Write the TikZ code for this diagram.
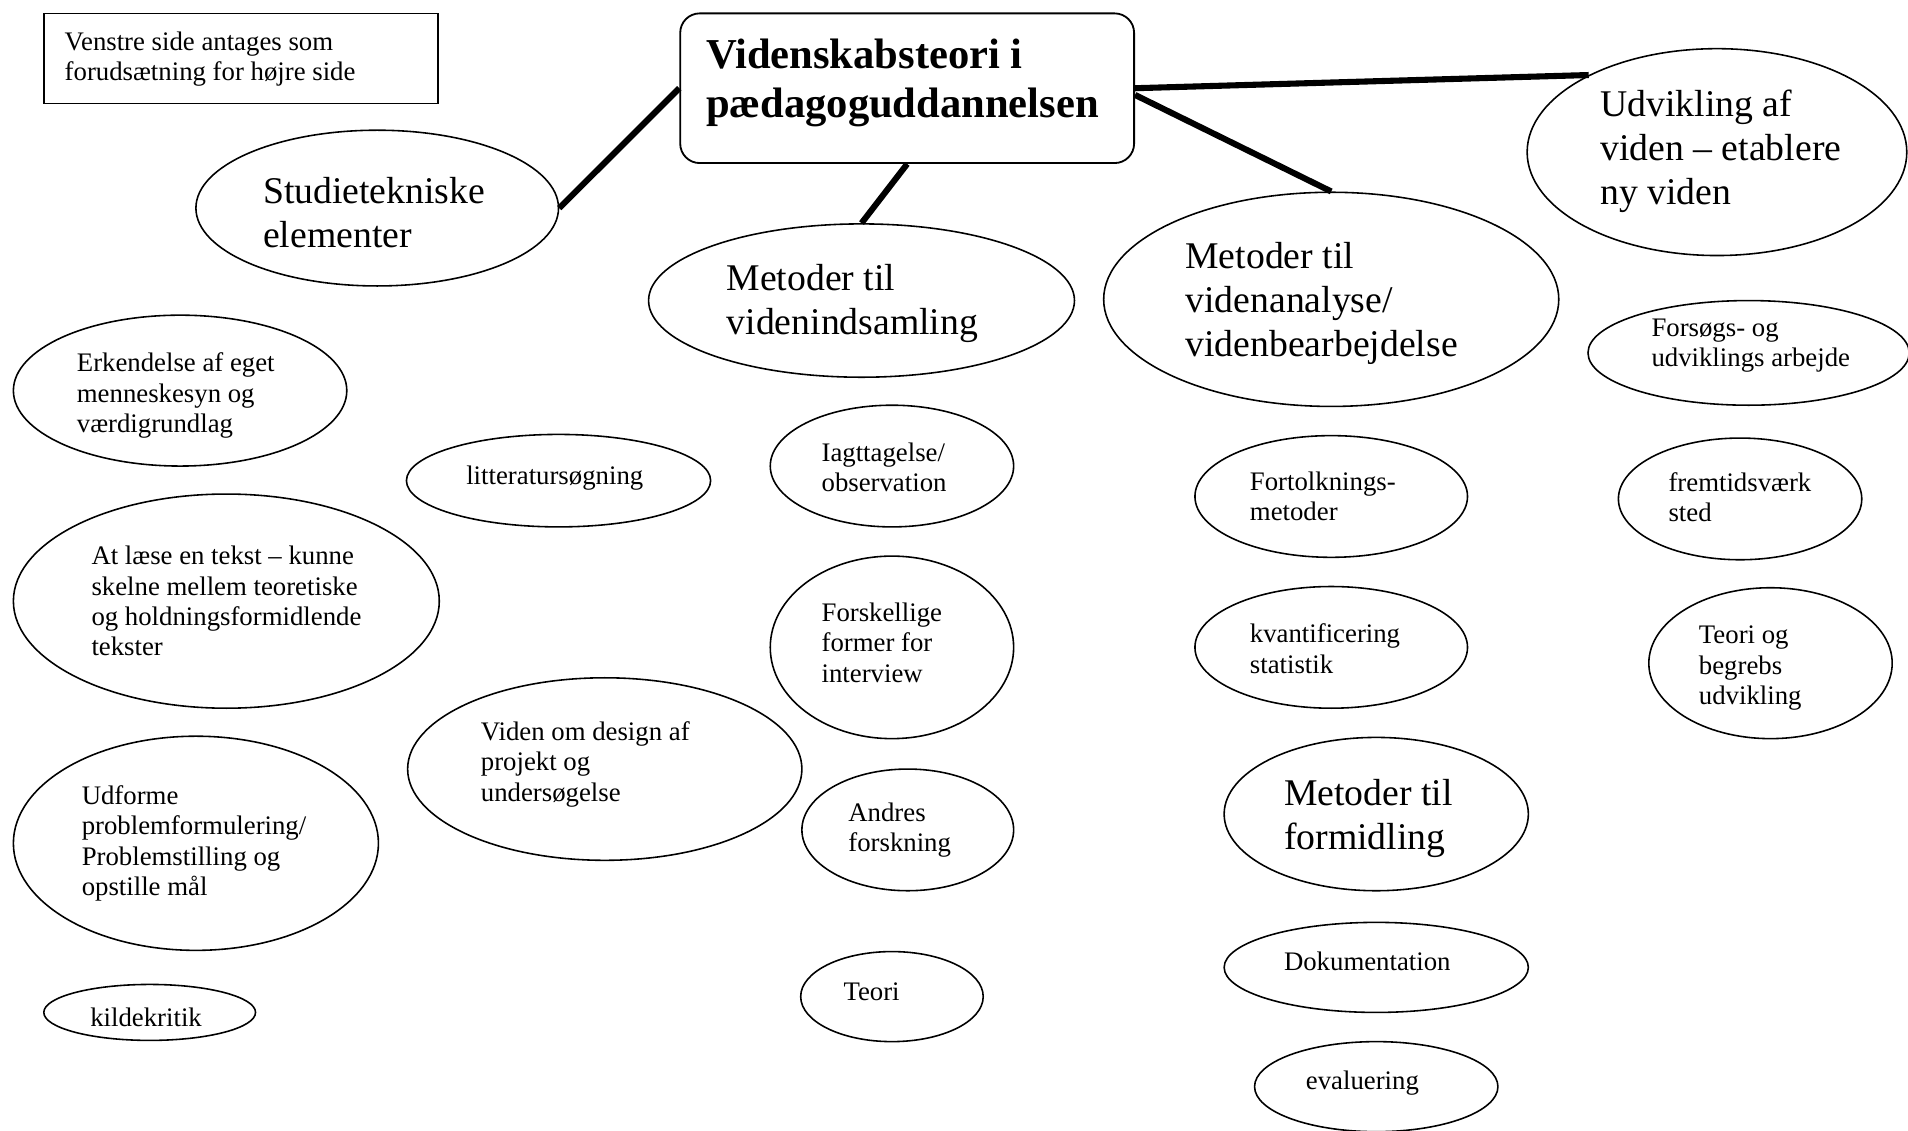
\documentclass[tikz,border=0pt]{standalone}
\usepackage{fontspec}
\setmainfont{Liberation Serif}
\usetikzlibrary{shapes.geometric}
\begin{document}
\begin{tikzpicture}[x=1pt,y=-1pt,
  ell/.style={draw, ellipse, line width=1.3pt, inner sep=0pt},
  txt/.style={anchor=west, align=left, inner sep=0pt, yshift=-3pt, font=\fontsize{22}{25}\selectfont},
  bigtxt/.style={anchor=west, align=left, inner sep=0pt, yshift=-3.5pt, font=\fontsize{31}{36}\selectfont},
  conn/.style={line width=5pt}]
\useasboundingbox (0,0) rectangle (1568,929);

% note box
\node[draw, rectangle, line width=1.4pt, minimum width=324pt, minimum height=74pt, inner sep=0pt] (note) at (198,48) {};
\node[txt] (tnote) at (53,45.5) {Venstre side antages som\\forudsætning for højre side};

% title
\node[draw, rectangle, rounded corners=16pt, line width=1.5pt, minimum width=373pt, minimum height=123pt, inner sep=0pt] (title) at (745.5,72.5) {};
\node[anchor=west, align=left, inner sep=0pt, yshift=-3pt, font=\fontsize{35}{40}\selectfont\bfseries] (ttitle) at (580,65) {Videnskabsteori i\\pædagoguddannelsen};

% main branches
\node[ell, minimum width=298pt, minimum height=128pt] (studie) at (310,171) {};
\node[bigtxt] (tstudie) at (216,171) {Studietekniske\\elementer};

\node[ell, minimum width=350pt, minimum height=126pt] (vi) at (708,247) {};
\node[bigtxt] (tvi) at (597,246) {Metoder til\\videnindsamling};

\node[ell, minimum width=374pt, minimum height=176pt] (ana) at (1094,246) {};
\node[bigtxt] (tana) at (974,246) {Metoder til\\videnanalyse/\\videnbearbejdelse};

\node[ell, minimum width=312pt, minimum height=170pt] (udv) at (1411,125) {};
\node[bigtxt] (tudv) at (1315,121) {Udvikling af\\viden – etablere\\ny viden};

% right column
\node[ell, minimum width=264pt, minimum height=86pt] (fors) at (1437,290) {};
\node[txt] (tfors) at (1357,281) {Forsøgs- og\\udviklings arbejde};

\node[ell, minimum width=200pt, minimum height=100pt] (frem) at (1430,410) {};
\node[txt] (tfrem) at (1371,405.5) {fremtidsværk\\sted};

\node[ell, minimum width=200pt, minimum height=124pt] (teorib) at (1455,545) {};
\node[txt] (tteorib) at (1396,546) {Teori og\\begrebs\\udvikling};

% left column
\node[ell, minimum width=274pt, minimum height=124pt] (erk) at (148,321) {};
\node[txt] (terk) at (63,322) {Erkendelse af eget\\menneskesyn og\\værdigrundlag};

\node[ell, minimum width=250pt, minimum height=76pt] (lit) at (459,395) {};
\node[txt] (tlit) at (383,390) {litteratursøgning};

\node[ell, minimum width=350pt, minimum height=176pt] (atl) at (186,494) {};
\node[txt] (tatl) at (75,491) {At læse en tekst – kunne\\skelne mellem teoretiske\\og holdningsformidlende\\tekster};

\node[ell, minimum width=324pt, minimum height=150pt] (design) at (497,632) {};
\node[txt] (tdesign) at (395,625) {Viden om design af\\projekt og\\undersøgelse};

\node[ell, minimum width=300pt, minimum height=176pt] (udf) at (161,693) {};
\node[txt] (tudf) at (67,690) {Udforme\\problemformulering/\\Problemstilling og\\opstille mål};

\node[ell, minimum width=174pt, minimum height=46pt] (kilde) at (123,832) {};
\node[txt] (tkilde) at (74,833) {kildekritik};

% middle column
\node[ell, minimum width=200pt, minimum height=100pt] (iagt) at (733,383) {};
\node[txt] (tiagt) at (675,381) {Iagttagelse/\\observation};

\node[ell, minimum width=200pt, minimum height=150pt] (forsk) at (733,532) {};
\node[txt] (tforsk) at (675,525) {Forskellige\\former for\\interview};

\node[ell, minimum width=174pt, minimum height=100pt] (andres) at (746,682) {};
\node[txt] (tandres) at (697,679) {Andres\\forskning};

\node[ell, minimum width=150pt, minimum height=74pt] (teori) at (733,819) {};
\node[txt] (tteori) at (693,812) {Teori};

% analysis column
\node[ell, minimum width=224pt, minimum height=100pt] (fort) at (1094,408) {};
\node[txt] (tfort) at (1027,405) {Fortolknings-\\metoder};

\node[ell, minimum width=224pt, minimum height=100pt] (kvant) at (1094,532) {};
\node[txt] (tkvant) at (1027,530) {kvantificering\\statistik};

\node[ell, minimum width=250pt, minimum height=126pt] (formid) at (1131,669) {};
\node[bigtxt] (tformid) at (1055,669) {Metoder til\\formidling};

\node[ell, minimum width=250pt, minimum height=74pt] (dok) at (1131,795) {};
\node[txt] (tdok) at (1055,787) {Dokumentation};

\node[ell, minimum width=200pt, minimum height=74pt] (eval) at (1131,893) {};
\node[txt] (teval) at (1073,887) {evaluering};

% connectors
\draw[conn] (title.west) -- (studie.east);
\draw[conn] (title.south) -- (vi.north);
\draw[conn] ([yshift=-5.5pt]title.east) -- (ana.north);
\draw[conn] (title.east) -- (udv.149);
\end{tikzpicture}
\end{document}
